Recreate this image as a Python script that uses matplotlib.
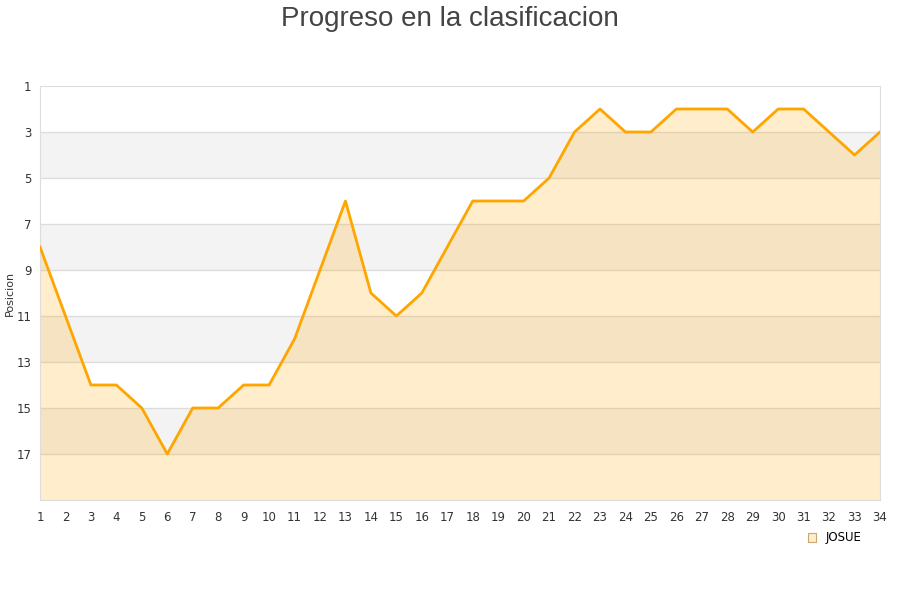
import matplotlib.pyplot as plt
from matplotlib.patches import Patch

# jornadas y posicion en la clasificacion
jornadas = list(range(1, 35))
posicion = [8, 11, 14, 14, 15, 17, 15, 15, 14, 14, 12, 9, 6, 10, 11, 10, 8, 6, 6, 6,
            5, 3, 2, 3, 3, 2, 2, 2, 3, 2, 2, 3, 4, 3]
y_ticks = [1, 3, 5, 7, 9, 11, 13, 15, 17]
jugador = 'JOSUE'

fig = plt.figure(figsize=(9, 6), dpi=100)
ax = fig.add_axes([40/900, 1 - 500/600, 840/900, 414/600])

# bandas grises alternas
for i, t in enumerate(y_ticks):
    if i % 2 == 1:
        ax.axhspan(t, t + 2, color='#f3f3f3', zorder=0, lw=0)

for t in y_ticks[1:]:
    ax.axhline(t, color='#dddddd', lw=1, zorder=1)

ax.fill_between(jornadas, posicion, 19, color='orange', alpha=0.2, lw=0, zorder=2)
ax.plot(jornadas, posicion, color='orange', lw=2, zorder=3)

ax.set_xlim(1, 34)
ax.set_ylim(19, 1)
ax.set_xticks(jornadas)
ax.set_yticks(y_ticks)
ax.tick_params(length=0, labelsize=8.5, colors='#333333')
ax.tick_params(axis='x', pad=8)
ax.tick_params(axis='y', pad=6)
for s in ax.spines.values():
    s.set_color('#dddddd')
ax.set_ylabel('Posicion', fontsize=8, color='#333333')
ax.yaxis.set_label_coords(-25/840, 0.5)

fig.suptitle('Progreso en la clasificacion', y=0.99, fontsize=20,
             color='#444444', family='Liberation Sans')

leg = Patch(facecolor='#ffedcc', edgecolor='#c8a870', lw=0.8, label=jugador)
fig.legend(handles=[leg], loc='center', bbox_to_anchor=(835/900, 1 - 538/600),
           frameon=False, fontsize=8.5, handlelength=0.7, handleheight=0.7)

fig.savefig('out.png')
